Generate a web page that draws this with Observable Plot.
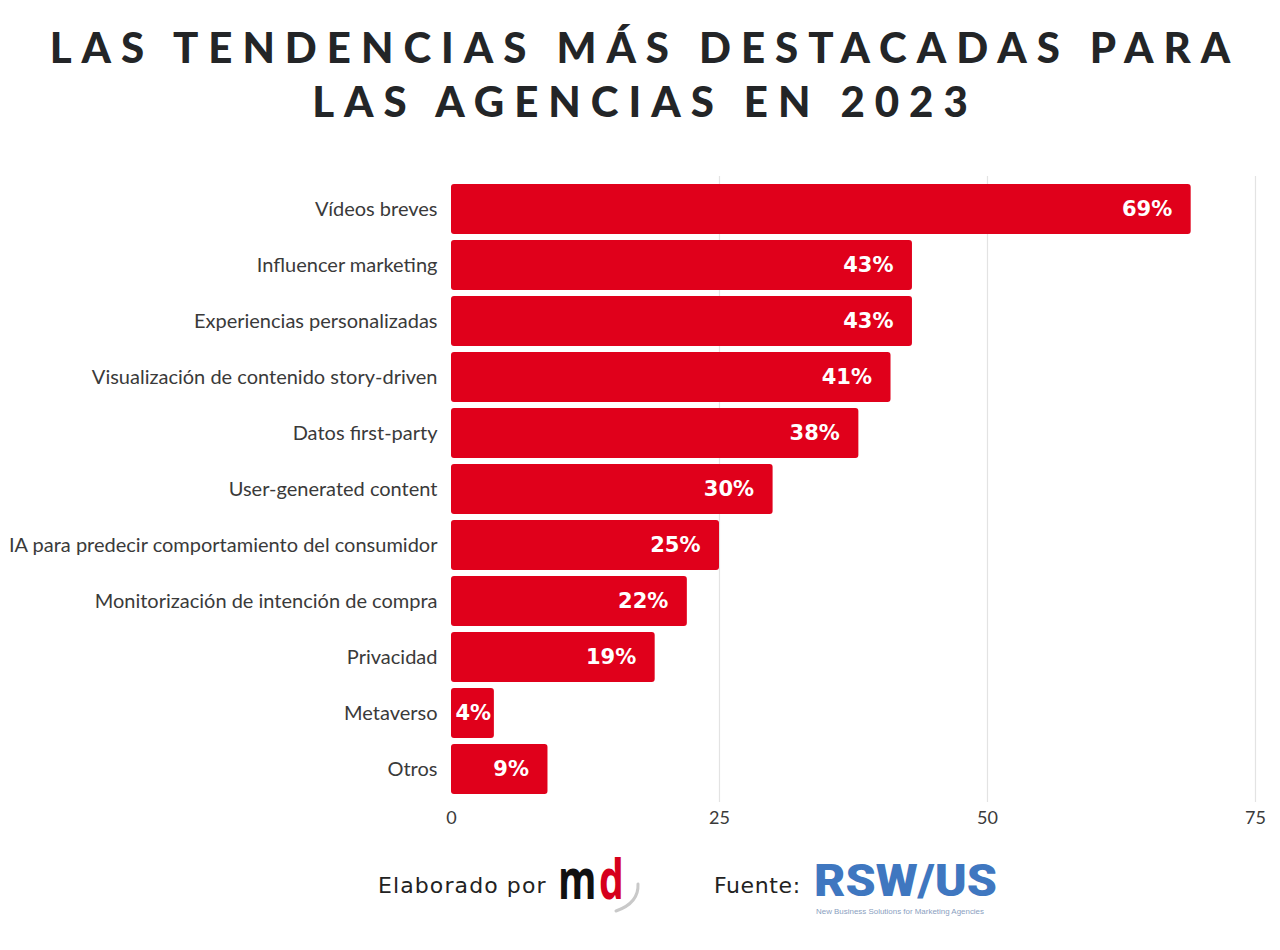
<!DOCTYPE html>
<html>
<head>
<meta charset="utf-8">
<script src="https://cdn.jsdelivr.net/npm/d3@7"></script>
<script src="https://cdn.jsdelivr.net/npm/@observablehq/plot@0.6"></script>
<style>
  html, body { margin: 0; padding: 0; background: #ffffff; }
  body { width: 1280px; height: 950px; position: relative; overflow: hidden; font-family: Lato, "Noto Sans", sans-serif; }
  #title { position: absolute; left: 0; top: 20px; width: 1280px; text-align: center; font-family: Lato, sans-serif; font-weight: 900; font-size: 42px; line-height: 54px; letter-spacing: 10px; padding-left: 10px; box-sizing: border-box; color: #232527; }
  #chart { position: absolute; left: 0; top: 160px; }
  #footer { position: absolute; left: 0; top: 840px; }
</style>
</head>
<body>
<div id="title">LAS TENDENCIAS MÁS DESTACADAS PARA<br>LAS AGENCIAS EN 2023</div>
<div id="chart"></div>
<svg id="footer" width="1280" height="110" viewBox="0 840 1280 110">
  <text x="378" y="893" font-family="'DejaVu Sans', sans-serif" font-size="22" letter-spacing="1.1" fill="#222">Elaborado por</text>
  <text transform="translate(558,899) scale(0.7,1)" font-family="'Open Sans', sans-serif" font-weight="700" font-size="56" fill="#111">m</text>
  <text transform="translate(599,899) scale(0.7,1)" font-family="'Open Sans', sans-serif" font-weight="700" font-size="56" fill="#d6001c">d</text>
  <path d="M 638 884 Q 639 903 616 911" fill="none" stroke="#c9c9c9" stroke-width="3" stroke-linecap="round"/>
  <text x="714" y="893" font-family="'DejaVu Sans', sans-serif" font-size="22" letter-spacing="0.6" fill="#222">Fuente:</text>
  <text x="814" y="896" font-family="Roboto, 'Liberation Sans', sans-serif" font-weight="900" font-size="45" fill="#3f77c0" textLength="183" lengthAdjust="spacingAndGlyphs">RSW/US</text>
  <text x="816" y="914" font-family="'Liberation Sans', sans-serif" font-size="7" fill="#8aa0c0" textLength="168" lengthAdjust="spacingAndGlyphs">New Business Solutions for Marketing Agencies</text>
</svg>
<script>
const categories = [
  "Vídeos breves",
  "Influencer marketing",
  "Experiencias personalizadas",
  "Visualización de contenido story-driven",
  "Datos first-party",
  "User-generated content",
  "IA para predecir comportamiento del consumidor",
  "Monitorización de intención de compra",
  "Privacidad",
  "Metaverso",
  "Otros"
];
const values = [69, 43, 43, 41, 38, 30, 25, 22, 19, 4, 9];
const xTicks = [0, 25, 50, 75];

const data = categories.map((c, i) => ({ category: c, value: values[i] }));
const labelFont = "'DejaVu Sans', sans-serif";

const chart = Plot.plot({
  width: 1280,
  height: 680,
  marginLeft: 451,
  marginRight: 25,
  marginTop: 16,
  marginBottom: 38,
  style: { fontFamily: "Lato, sans-serif", background: "transparent" },
  x: { domain: [0, 75], ticks: xTicks, label: null },
  y: { domain: categories, label: null, padding: 0.1 },
  marks: [
    Plot.ruleX(xTicks.filter(t => t > 0), { stroke: "#e3e3e3", strokeWidth: 1.2 }),
    Plot.barX(data, { x: "value", y: "category", fill: "#e0001b", rx: 3 }),
    Plot.text(data.filter(d => d.value >= 6), { x: "value", y: "category", text: d => d.value + "%", textAnchor: "end", dx: -19, fill: "#ffffff", fontWeight: 700, fontSize: 21, fontFamily: labelFont }),
    Plot.text(data.filter(d => d.value < 6), { x: 0, y: "category", text: d => d.value + "%", textAnchor: "start", dx: 4, fill: "#ffffff", fontWeight: 700, fontSize: 21, fontFamily: labelFont }),
    Plot.axisY({ tickSize: 0, tickPadding: 14, fontSize: 20, fill: "#3a3a3a", label: null }),
    Plot.axisX({ ticks: xTicks, tickSize: 0, tickPadding: 9, fontSize: 18, fill: "#3a3a3a", label: null })
  ]
});
document.getElementById("chart").appendChild(chart);
</script>
</body>
</html>
